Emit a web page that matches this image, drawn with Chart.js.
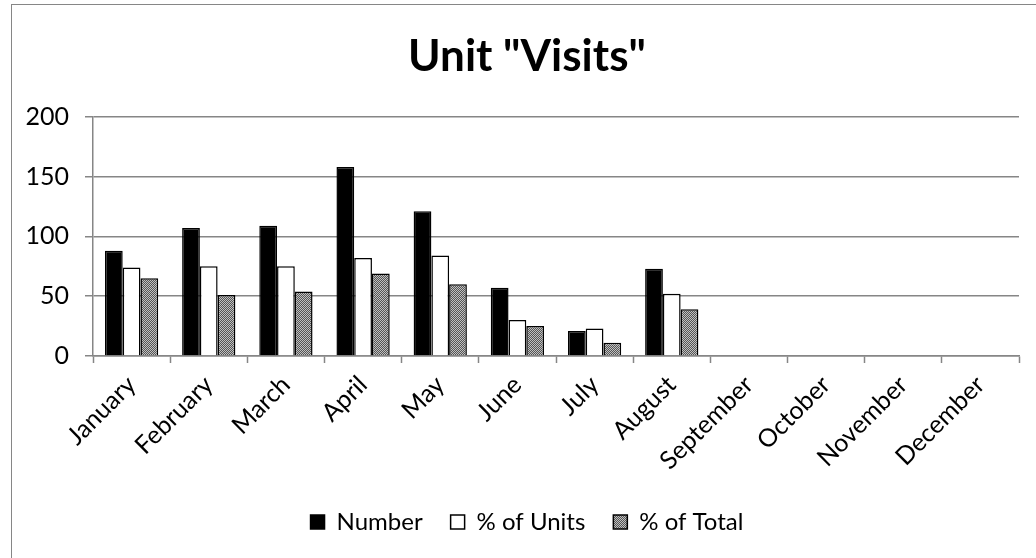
<!DOCTYPE html>
<html>
<head>
<meta charset="utf-8">
<script src="https://cdn.jsdelivr.net/npm/chart.js@4.4.1/dist/chart.umd.min.js"></script>
<style>
  html, body { margin: 0; padding: 0; background: #fff; overflow: hidden; width: 1036px; height: 558px; }
  #wrap { position: absolute; left: 11px; top: 4px; width: 1032px; height: 560px; box-sizing: border-box; border: 1px solid #868686; }
  canvas { display: block; }
</style>
</head>
<body>
<div id="wrap"><canvas id="chart" width="1030" height="558"></canvas></div>
<script>
const months = ['January', 'February', 'March', 'April', 'May', 'June', 'July', 'August', 'September', 'October', 'November', 'December'];
const number = [88, 107, 109, 158, 121, 57, 21, 73, null, null, null, null];
const pctUnits = [74, 75, 75, 82, 84, 30, 23, 52, null, null, null, null];
const pctTotal = [65, 51, 54, 69, 60, 25, 11, 39, null, null, null, null];
const yTicks = [0, 50, 100, 150, 200];

const FONT = 'Lato, "Open Sans", sans-serif';

// dithered gray fill like the Excel pattern
function makePattern() {
  const c = document.createElement('canvas');
  c.width = 2; c.height = 2;
  const g = c.getContext('2d');
  g.fillStyle = '#c0c0c0'; g.fillRect(0, 0, 2, 2);
  g.fillStyle = '#555'; g.fillRect(0, 0, 1, 1); g.fillRect(1, 1, 1, 1);
  return g.createPattern(c, 'repeat');
}
const grayPattern = makePattern();

const ctx = document.getElementById('chart').getContext('2d');
new Chart(ctx, {
  type: 'bar',
  data: {
    labels: months,
    datasets: [
      { label: 'Number', data: number, backgroundColor: '#000', borderColor: '#000', borderWidth: 1.5 },
      { label: '% of Units', data: pctUnits, backgroundColor: '#fff', borderColor: '#000', borderWidth: 1.5 },
      { label: '% of Total', data: pctTotal, backgroundColor: grayPattern, borderColor: '#000', borderWidth: 1.5 },
    ],
  },
  options: {
    responsive: false,
    animation: false,
    layout: { padding: { left: 0, right: 0, top: 0, bottom: 19 } },
    datasets: { bar: { barPercentage: 1, categoryPercentage: 0.69 } },
    plugins: {
      title: {
        display: true,
        text: 'Unit "Visits"',
        color: '#000',
        font: { family: FONT, size: 44, weight: 'bold', lineHeight: 1.2 },
        padding: { top: 25, bottom: 34 },
      },
      legend: {
        position: 'bottom',
        labels: {
          color: '#000',
          font: { family: FONT, size: 24 },
          boxWidth: 14, boxHeight: 14,
          padding: 28,
        },
      },
      tooltip: { enabled: false },
    },
    scales: {
      x: {
        grid: { offset: true, drawOnChartArea: false, color: '#868686', tickLength: 7, tickWidth: 1.5 },
        border: { color: '#868686', width: 1.5 },
        ticks: { color: '#000', font: { family: FONT, size: 25 }, maxRotation: 45, minRotation: 45, padding: 7 },
        afterFit: s => { s.height = 126; },
      },
      y: {
        min: 0, max: 200,
        afterBuildTicks: s => { s.ticks = yTicks.map(v => ({ value: v })); },
        grid: { color: '#868686', lineWidth: 1.5, tickLength: 8 },
        border: { color: '#868686', width: 1.5 },
        ticks: { color: '#000', font: { family: FONT, size: 25 }, padding: 16 },
        afterFit: s => { s.width = 81; },
      },
      // empty right-hand spacer so title and legend stay centred on the frame
      spacer: {
        position: 'right',
        grid: { display: false },
        border: { display: false },
        ticks: { display: false },
        afterFit: s => { s.width = 23; },
      },
    },
  },
});
</script>
</body>
</html>
